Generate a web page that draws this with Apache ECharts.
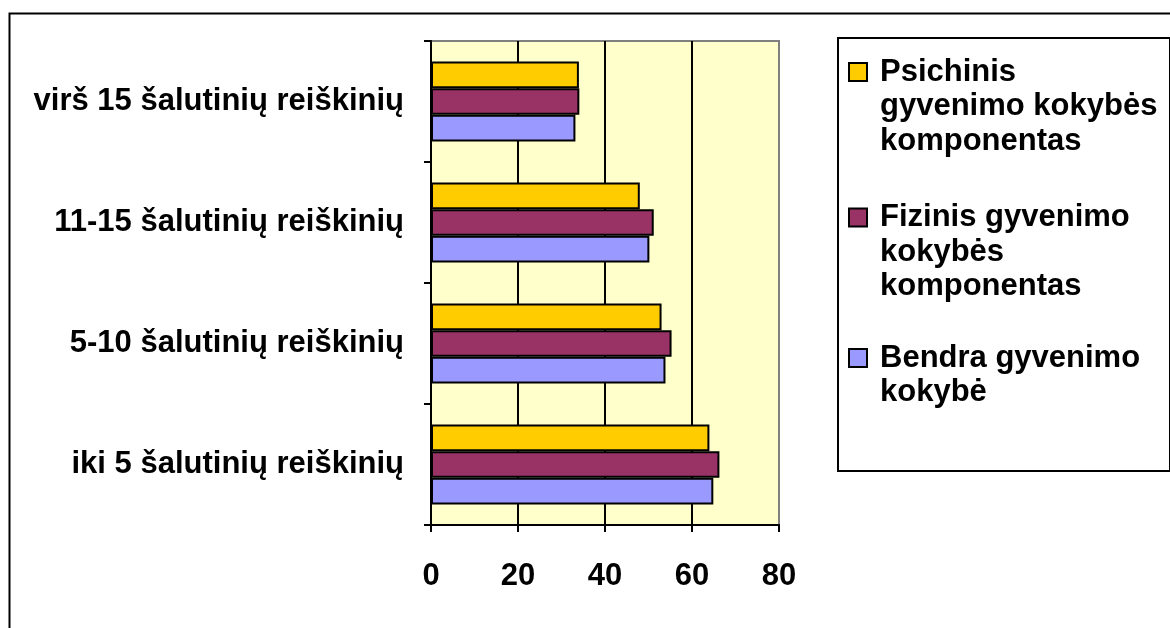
<!DOCTYPE html>
<html>
<head>
<meta charset="utf-8">
<script src="https://cdn.jsdelivr.net/npm/echarts@6/dist/echarts.min.js"></script>
<style>
html,body{margin:0;padding:0;background:#fff;}
#chart{width:1170px;height:628px;}
</style>
</head>
<body>
<div id="chart"></div>
<script>
const categories = ['iki 5 šalutinių reiškinių', '5-10 šalutinių reiškinių', '11-15 šalutinių reiškinių', 'virš 15 šalutinių reiškinių'];
const seriesNames = ['Psichinis gyvenimo kokybės komponentas', 'Fizinis gyvenimo kokybės komponentas', 'Bendra gyvenimo kokybė'];
const legendLines = [['Psichinis', 'gyvenimo kokybės', 'komponentas'], ['Fizinis gyvenimo', 'kokybės', 'komponentas'], ['Bendra gyvenimo', 'kokybė']];
const psichinis = [64, 53, 48, 34];
const fizinis = [66.3, 55.3, 51.2, 34.1];
const bendra = [64.9, 53.9, 50.2, 33.2];
const xTicks = [0, 20, 40, 60, 80];
const colors = ['#FFCC00', '#993366', '#9999FF'];

const font = 'Arial, "Liberation Sans", sans-serif';
const chart = echarts.init(document.getElementById('chart'), null, {renderer: 'canvas'});
const seriesData = [psichinis, fizinis, bendra];

const LH = 34.5;
const iconCenters = [72, 217.5, 358];
// prefix blank lines so the first text line sits beside the legend marker
const legends = seriesNames.map((n, i) => {
  const lines = legendLines[i];
  const blanks = lines.length - 1;
  const total = lines.length + blanks;
  return {
    orient: 'vertical',
    left: 848,
    top: iconCenters[i] - total * LH / 2,
    padding: 0,
    itemWidth: 18,
    itemHeight: 18,
    icon: 'rect',
    data: [n],
    selectedMode: false,
    formatter: () => '\n'.repeat(blanks) + lines.join('\n'),
    textStyle: {fontFamily: font, fontWeight: 'bold', fontSize: 31, color: '#000', lineHeight: LH, padding: [0, 0, 0, 8]}
  };
});

chart.setOption({
  animation: false,
  backgroundColor: '#fff',
  color: colors,
  graphic: [
    {type: 'rect', left: 7, top: 11, shape: {width: 1300, height: 800}, style: {fill: 'none', stroke: '#000', lineWidth: 2}, z: 0},
    {type: 'rect', left: 837, top: 37, shape: {width: 332, height: 433}, style: {fill: '#fff', stroke: '#000', lineWidth: 2}, z: 0}
  ],
  legend: legends,
  grid: {left: 431, right: 391, top: 41, bottom: 103, show: true, backgroundColor: '#FFFFCC', borderColor: '#808080', borderWidth: 2},
  xAxis: {
    type: 'value', min: xTicks[0], max: xTicks[xTicks.length - 1], interval: 20,
    axisLine: {show: true, lineStyle: {color: '#000', width: 2}},
    axisTick: {show: true, length: 7, lineStyle: {color: '#000', width: 2}},
    axisLabel: {fontFamily: font, fontWeight: 'bold', fontSize: 31, color: '#000', margin: 36},
    splitLine: {show: true, showMaxLine: false, lineStyle: {color: '#000', width: 2}}
  },
  yAxis: {
    type: 'category', data: categories,
    axisLine: {show: true, lineStyle: {color: '#000', width: 2}},
    axisTick: {show: true, length: 7, lineStyle: {color: '#000', width: 2}},
    axisLabel: {fontFamily: font, fontWeight: 'bold', fontSize: 31, color: '#000', margin: 27},
    splitLine: {show: false}
  },
  series: seriesNames.map((n, i) => ({
    name: n, type: 'bar', data: seriesData[i],
    barGap: '0%', barCategoryGap: '34%',
    itemStyle: {color: colors[i], borderColor: '#000', borderWidth: 2}
  }))
});
</script>
</body>
</html>
